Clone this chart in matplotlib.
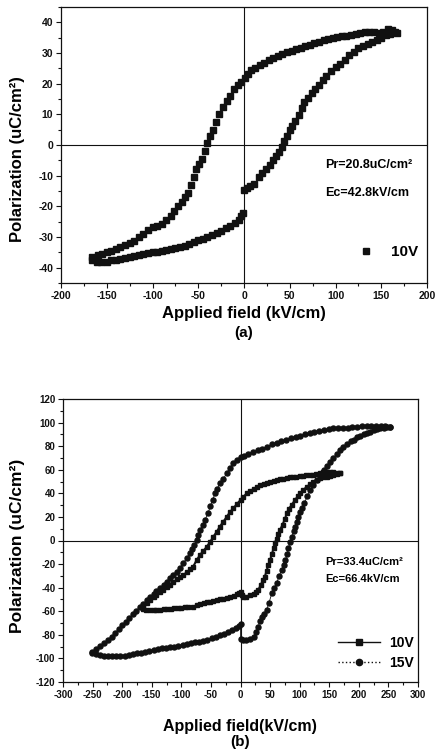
import matplotlib
matplotlib.use("Agg")
import matplotlib.pyplot as plt
from matplotlib.ticker import MultipleLocator, AutoMinorLocator
from matplotlib.lines import Line2D

plt.rcParams['font.family'] = ['Liberation Sans', 'DejaVu Sans']
plt.rcParams['font.weight'] = 'bold'
plt.rcParams['axes.unicode_minus'] = False

# ---- (a) 10V loop, upper branch (right -> left) ----
a_up_x = [167, 162, 157, 152, 147, 142, 137, 132, 127, 122, 117, 112, 107, 102, 97, 92, 87, 82, 77, 72,
          67, 62, 57, 52, 47, 42, 37, 32, 27, 22, 17, 12, 8, 4, 1, -3, -7, -11, -15, -19,
          -23, -27, -31, -34, -37, -40, -43, -46, -49, -52, -55, -58, -61, -64, -68, -72, -76, -80, -85, -90,
          -95, -100, -105, -110, -115, -120, -125, -130, -135, -140, -145, -150, -155, -160, -166]
a_up_y = [36.5, 37.5, 37.8, 37.0, 36.6, 36.8, 37.0, 36.7, 36.4, 36.3, 36.0, 35.6, 35.5, 35.2, 35.0, 34.6, 34.1, 33.7, 33.2, 32.7,
          32.2, 31.6, 31.2, 30.7, 30.2, 29.6, 29.0, 28.3, 27.6, 26.8, 26.0, 25.2, 24.3, 23.0, 21.8, 20.6, 19.5, 18.3, 16.0, 14.3,
          12.4, 10.0, 7.5, 4.8, 2.8, 0.5, -1.8, -4.6, -6.3, -7.8, -10.5, -13.0, -15.6, -17.0, -18.5, -20.0, -21.5, -23.0, -24.6, -25.6,
          -26.4, -26.9, -27.8, -29.0, -30.0, -31.2, -32.0, -32.6, -33.1, -33.8, -34.5, -35.0, -35.5, -36.0, -36.4]
# ---- (a) 10V loop, lower branch (left -> right) ----
a_lo_x = [-166, -161, -156, -150, -145, -140, -135, -130, -125, -120, -115, -110, -105, -100, -95, -90, -85, -80, -75, -70,
          -65, -60, -55, -50, -45, -40, -35, -30, -25, -20, -15, -10, -6, -3, -1,
          0, 3, 7, 11, 16, 20, 24, 28, 32, 35, 38, 41, 44, 47, 50, 53, 56, 60, 63, 66,
          70, 74, 78, 82, 86, 90, 95, 100, 105, 110, 115, 120, 125, 130, 135, 140, 145, 150, 155, 160, 165]
a_lo_y = [-37.5, -38.0, -38.2, -38.0, -37.6, -37.6, -37.3, -37.0, -36.6, -36.2, -35.8, -35.5, -35.2, -35.0, -34.8, -34.6, -34.3, -34.0, -33.6, -33.2,
          -32.8, -32.3, -31.7, -31.1, -30.5, -30.0, -29.4, -28.6, -27.9, -27.2, -26.3, -25.3, -24.3, -23.2, -22.2,
          -14.6, -14.0, -13.3, -12.6, -10.5, -9.0, -7.8, -6.5, -5.0, -3.6, -2.2, -0.5, 1.2, 3.0, 4.8, 6.3, 7.8, 9.8, 12.2, 14.0,
          15.3, 16.8, 18.2, 19.6, 21.2, 22.6, 24.1, 25.4, 26.5, 27.8, 29.2, 30.4, 31.5, 32.3, 33.0, 33.7, 34.3, 35.0, 35.8, 36.3, 36.7]

# ---- (b) 10V loop ----
b10_up_x = [168, 163, 157, 151, 146, 140, 134, 128, 122, 117, 111, 105, 100, 94, 89, 83, 78, 72, 67, 61,
            56, 50, 44, 39, 33, 28, 22, 16, 10.5, 5, 0, -6, -12, -18, -23, -29, -35, -40, -46, -51,
            -57, -63, -68, -74, -80, -85, -91, -97, -102, -108, -114, -119, -125, -131, -136, -142, -147, -153, -158, -164]
b10_up_y = [57.0, 57.5, 58.0, 58.3, 58.4, 57.8, 57.0, 56.4, 55.8, 55.6, 55.2, 54.8, 54.5, 54.2, 54.1, 53.6, 53.2, 52.5, 52.0, 51.3,
            50.5, 49.6, 48.5, 48.0, 47.0, 45.5, 43.5, 41.8, 40.0, 37.0, 34.3, 31.0, 27.3, 24.0, 20.2, 16.0, 11.7, 7.5, 3.2, -1.0,
            -5.3, -9.0, -12.0, -16.5, -22.2, -24.5, -27.0, -29.5, -30.7, -33.0, -35.5, -37.5, -39.2, -42.0, -44.0, -46.0, -47.7, -50.5, -53.0, -56.0]
b10_lo_x = [-164, -159, -153, -147, -142, -136, -130, -124, -118, -112, -106, -100, -94, -88, -80, -74, -68, -62, -57, -51.5,
            -46, -40, -34.6, -29, -23.4, -17, -11, -6.4, -2, 0, 3, 5, 10, 16, 22, 27, 30, 34, 38, 41,
            44, 47, 50, 53, 56, 58, 61, 64, 67, 71, 75, 78, 82, 87, 92, 97, 101, 106, 112, 117,
            123, 129, 135, 140, 146, 151, 157, 163, 168]
b10_lo_y = [-58.0, -59.0, -59.2, -59.0, -58.9, -58.9, -58.5, -58.0, -57.7, -57.5, -57.2, -56.9, -56.5, -56.2, -56.1, -55.0, -54.0, -53.2, -52.5, -51.9,
            -51.0, -50.2, -49.5, -49.2, -49.0, -48.0, -47.0, -45.5, -44.5, -43.4, -46.0, -47.7, -47.5, -46.2, -45.0, -43.5, -42.0, -38.0, -33.5, -30.7,
            -26.0, -21.0, -16.5, -11.5, -6.5, -2.4, 1.5, 5.5, 8.9, 13.5, 18.0, 23.0, 27.0, 30.5, 34.3, 37.5, 40.0, 42.8, 45.5, 47.5,
            49.9, 51.5, 52.8, 53.5, 54.1, 55.0, 55.5, 56.0, 57.0]

# ---- (b) 15V loop ----
b15_up_x = [253, 245, 237, 229, 221, 213, 205, 197, 189, 181, 173, 165, 157, 149, 141, 133, 125, 117, 109, 101,
            93, 85, 77, 69, 61, 53, 45, 37, 29, 21, 13, 6, 0, -6, -12, -18, -23, -29, -35, -39,
            -43, -47, -51, -55, -60, -64, -68, -71, -74, -78, -82, -86, -91, -97, -102, -108, -114, -119, -125, -130,
            -136, -142, -147, -153, -158, -164, -170, -176, -182, -188, -194, -200, -206, -212, -218, -224, -230, -237, -244, -251]
b15_up_y = [96.5, 97.0, 97.2, 97.5, 97.2, 97.0, 96.8, 96.5, 96.2, 95.8, 95.5, 95.2, 95.0, 94.3, 93.6, 93.0, 92.0, 91.0, 90.0, 89.0,
            88.0, 87.0, 85.5, 84.0, 83.0, 81.5, 79.5, 78.0, 76.5, 75.0, 73.5, 72.0, 71.0, 68.5, 65.5, 61.5, 57.0, 52.5, 48.5, 44.0,
            40.0, 34.5, 29.0, 23.0, 17.4, 13.0, 8.9, 4.5, 0.4, -3.5, -7.0, -11.0, -15.0, -19.5, -23.0, -26.5, -29.5, -32.0, -35.5, -38.0,
            -40.5, -43.0, -45.5, -48.0, -50.5, -53.5, -56.1, -59.5, -62.5, -65.5, -69.0, -72.0, -75.0, -78.5, -81.5, -84.5, -87.0, -89.5, -92.0, -94.3]
b15_lo_x = [-251, -245, -238, -231, -224, -217, -210, -203, -196, -189, -182, -175, -168, -161, -154, -147, -140, -133, -126, -119,
            -112, -105, -98, -91, -84, -77, -70, -63, -56, -49, -42, -35, -28, -21, -14, -8, -3, 0,
            0, 5, 10, 16, 22, 27, 30, 33, 36, 40, 44, 48, 53, 57, 61, 65, 69.6, 73, 76, 79,
            81, 84, 87, 90, 92, 95, 98, 101, 104, 108, 113, 118, 123, 129, 135, 141, 146, 151, 157, 163,
            168, 174, 180, 186, 191, 197, 202, 208, 213, 219, 225, 230, 236, 242, 248, 253]
b15_lo_y = [-95.5, -96.5, -97.3, -97.6, -97.8, -98.0, -98.0, -97.8, -97.6, -97.0, -96.3, -95.5, -95.0, -94.5, -93.8, -93.0, -92.0, -91.5, -91.0, -90.5,
            -90.0, -89.5, -88.7, -87.8, -87.0, -86.5, -86.0, -85.0, -84.0, -83.0, -81.8, -80.5, -79.0, -77.5, -76.0, -74.0, -72.5, -71.0,
            -83.5, -84.0, -84.3, -83.5, -81.8, -78.0, -73.3, -68.0, -64.6, -62.0, -59.0, -53.0, -44.8, -40.5, -36.3, -30.5, -25.0, -20.5, -16.5, -11.5,
            -6.6, -1.5, 3.2, 8.0, 11.7, 16.0, 20.2, 24.0, 27.3, 32.0, 37.5, 42.7, 47.0, 51.3, 55.5, 59.5, 63.0, 66.5, 70.0, 73.5,
            76.8, 79.5, 82.0, 84.0, 85.5, 87.5, 89.0, 90.2, 91.0, 92.3, 93.3, 94.2, 95.0, 95.7, 96.2, 96.5]

fig = plt.figure(figsize=(4.38, 7.52), dpi=100)
W, H = 438.0, 752.0
ax1 = fig.add_axes([61 / W, 1 - 283 / H, 366 / W, 276 / H])
ax2 = fig.add_axes([63 / W, 1 - 682 / H, 355 / W, 283 / H])

k = '#111111'

# panel (a)
ax1.axhline(0, color=k, lw=0.8, zorder=1)
ax1.axvline(0, color=k, lw=0.8, zorder=1)
ax1.plot(a_up_x, a_up_y, 's', color=k, ms=3.8, zorder=3)
ax1.plot(a_lo_x, a_lo_y, 's', color=k, ms=3.8, zorder=3)
ax1.set_xlim(-200, 200)
ax1.set_ylim(-45, 45)
ax1.xaxis.set_major_locator(MultipleLocator(50))
ax1.yaxis.set_major_locator(MultipleLocator(10))
ax1.text(0.721, 0.428, 'Pr=20.8uC/cm²', transform=ax1.transAxes, fontsize=9, fontweight='bold', va='center')
ax1.text(0.721, 0.326, 'Ec=42.8kV/cm', transform=ax1.transAxes, fontsize=9, fontweight='bold', va='center')
h1 = Line2D([], [], ls='none', marker='s', color=k, ms=4)
ax1.legend([h1], ['10V'], loc='center left', bbox_to_anchor=(0.813, 0.112), frameon=False,
           handlelength=1.0, handletextpad=1.1, borderpad=0, borderaxespad=0,
           prop={'size': 11, 'weight': 'bold'})
ax1.set_ylabel('Polarization (uC/cm²)', fontsize=12, fontweight='bold')
ax1.yaxis.set_label_coords(-36 / 366, 0.45)
fig.text(244 / W, 1 - 313 / H, 'Applied field (kV/cm)', fontsize=12, fontweight='bold', ha='center', va='center')
fig.text(244 / W, 1 - 333 / H, '(a)', fontsize=11, fontweight='bold', ha='center', va='center')

# panel (b)
ax2.axhline(0, color=k, lw=0.8, zorder=1)
ax2.axvline(0, color=k, lw=0.8, zorder=1)
ax2.plot(b10_up_x, b10_up_y, '-s', color=k, ms=3.2, lw=1.5, zorder=3)
ax2.plot(b10_lo_x, b10_lo_y, '-s', color=k, ms=3.2, lw=1.5, zorder=3)
ax2.plot(b15_up_x, b15_up_y, '-o', color=k, ms=3.6, lw=0.6, zorder=3)
ax2.plot(b15_lo_x, b15_lo_y, '-o', color=k, ms=3.6, lw=0.6, zorder=3)
ax2.set_xlim(-300, 300)
ax2.set_ylim(-120, 120)
ax2.xaxis.set_major_locator(MultipleLocator(50))
ax2.yaxis.set_major_locator(MultipleLocator(20))
ax2.text(0.738, 0.424, 'Pr=33.4uC/cm²', transform=ax2.transAxes, fontsize=8, fontweight='bold', va='center')
ax2.text(0.738, 0.364, 'Ec=66.4kV/cm', transform=ax2.transAxes, fontsize=8, fontweight='bold', va='center')
h10 = Line2D([], [], ls='-', lw=1.0, marker='s', color=k, ms=4.5)
h15 = Line2D([], [], ls=':', lw=1.0, marker='o', color=k, ms=4.5)
ax2.legend([h10, h15], ['10V', '15V'], loc='center left', bbox_to_anchor=(0.775, 0.102), frameon=False,
           handlelength=3.0, handletextpad=0.7, labelspacing=0.4, borderpad=0, borderaxespad=0,
           prop={'size': 10, 'weight': 'bold'})
ax2.set_ylabel('Polarization (uC/cm²)', fontsize=12.5, fontweight='bold')
ax2.yaxis.set_label_coords(-38 / 355, 0.48)
fig.text(240 / W, 1 - 727 / H, 'Applied field(kV/cm)', fontsize=11.5, fontweight='bold', ha='center', va='center')
fig.text(240 / W, 1 - 742 / H, '(b)', fontsize=11, fontweight='bold', ha='center', va='center')

for ax, fs in ((ax1, 7.5), (ax2, 7)):
    ax.xaxis.set_minor_locator(AutoMinorLocator(2))
    ax.yaxis.set_minor_locator(AutoMinorLocator(2))
    ax.tick_params(which='both', direction='out', top=False, right=False, width=0.8, colors=k)
    ax.tick_params(which='major', length=3.5, pad=2, labelsize=fs)
    ax.tick_params(which='minor', length=2)
    for lab in ax.get_xticklabels() + ax.get_yticklabels():
        lab.set_fontweight('bold')
    for s in ax.spines.values():
        s.set_linewidth(0.9)
        s.set_color(k)

fig.savefig('out.png', dpi=100)
